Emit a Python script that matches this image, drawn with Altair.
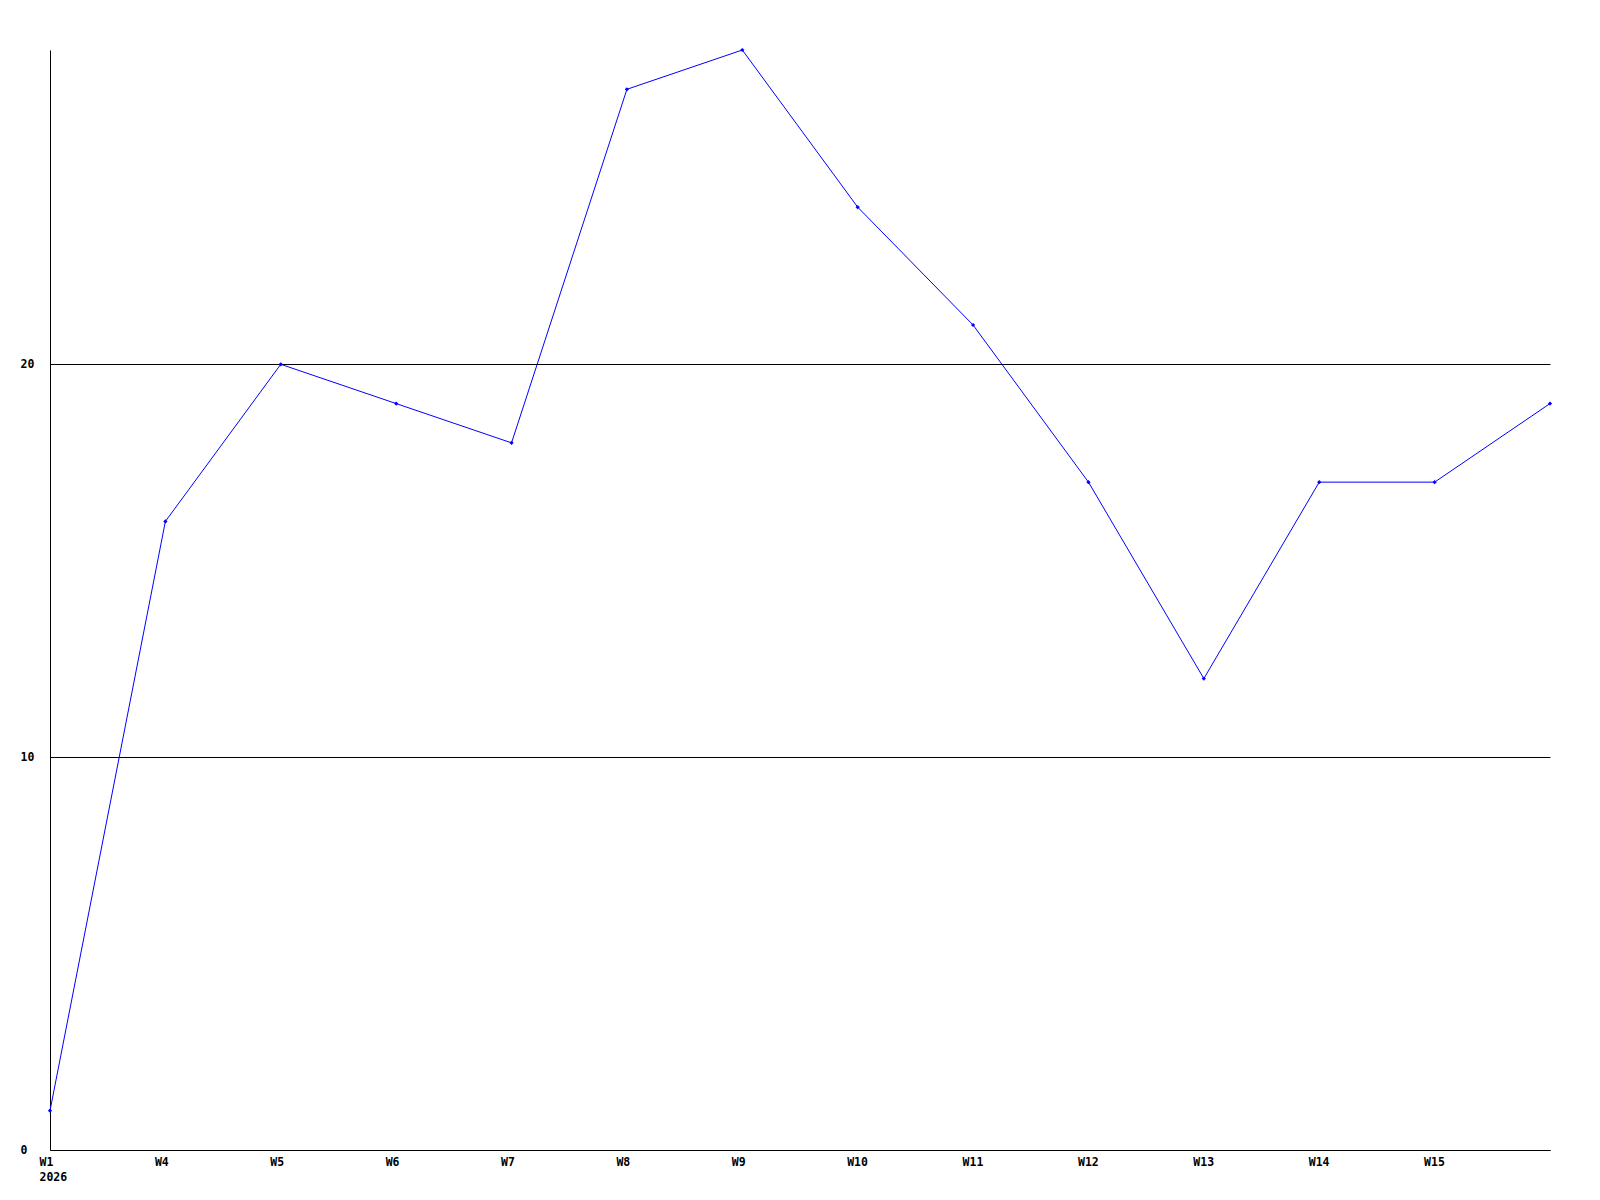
import altair as alt
import pandas as pd

weeks = ["W1", "W4", "W5", "W6", "W7", "W8", "W9", "W10", "W11", "W12", "W13", "W14", "W15", "W16"]
values = [1, 16, 20, 19, 18, 27, 28, 24, 21, 17, 12, 17, 17, 19]
y_ticks = [0, 10, 20]

df = pd.DataFrame({"week": weeks, "value": values})

FONT = "DejaVu Sans Mono"

x = alt.X(
    "week:O",
    sort=weeks,
    scale=alt.Scale(type="point", padding=0),
    axis=alt.Axis(
        title=None,
        labelAngle=0,
        ticks=False,
        labelAlign="left",
        labelBaseline="top",
        labelOffset=-11,
        labelPadding=6,
        labelFont=FONT,
        labelFontWeight="bold",
        labelFontSize=11.5,
        labelColor="black",
        labelLineHeight=15,
        domainColor="black",
        domainWidth=1,
        grid=False,
        labelExpr="datum.label == 'W1' ? ['W1', '2026'] : (datum.label == 'W16' ? '' : datum.label)",
    ),
)
y = alt.Y(
    "value:Q",
    scale=alt.Scale(domain=[0, 28], nice=False, zero=True),
    axis=alt.Axis(
        title=None,
        values=y_ticks,
        ticks=False,
        labelAlign="left",
        labelBaseline="middle",
        labelPadding=30,
        labelFont=FONT,
        labelFontWeight="bold",
        labelFontSize=11.5,
        labelColor="black",
        domainColor="black",
        domainWidth=1,
        grid=True,
        gridColor="black",
        gridOpacity=1,
        gridWidth=1,
    ),
)

base = alt.Chart(df)
line = base.mark_line(color="#0000ff", strokeWidth=1).encode(x=x, y=y)
pts = base.mark_point(shape="diamond", filled=True, color="#0000ff", size=18, opacity=1).encode(x=x, y=y)

chart = (
    alt.layer(line, pts)
    .properties(
        width=1500,
        height=1100,
        background="white",
        autosize=alt.AutoSizeParams(type="none"),
        padding={"left": 42, "top": 42, "right": 20, "bottom": 40},
    )
    .configure_view(strokeWidth=0, stroke="transparent")
)

chart.save("out.html", embed_options={"renderer": "svg", "actions": False})
